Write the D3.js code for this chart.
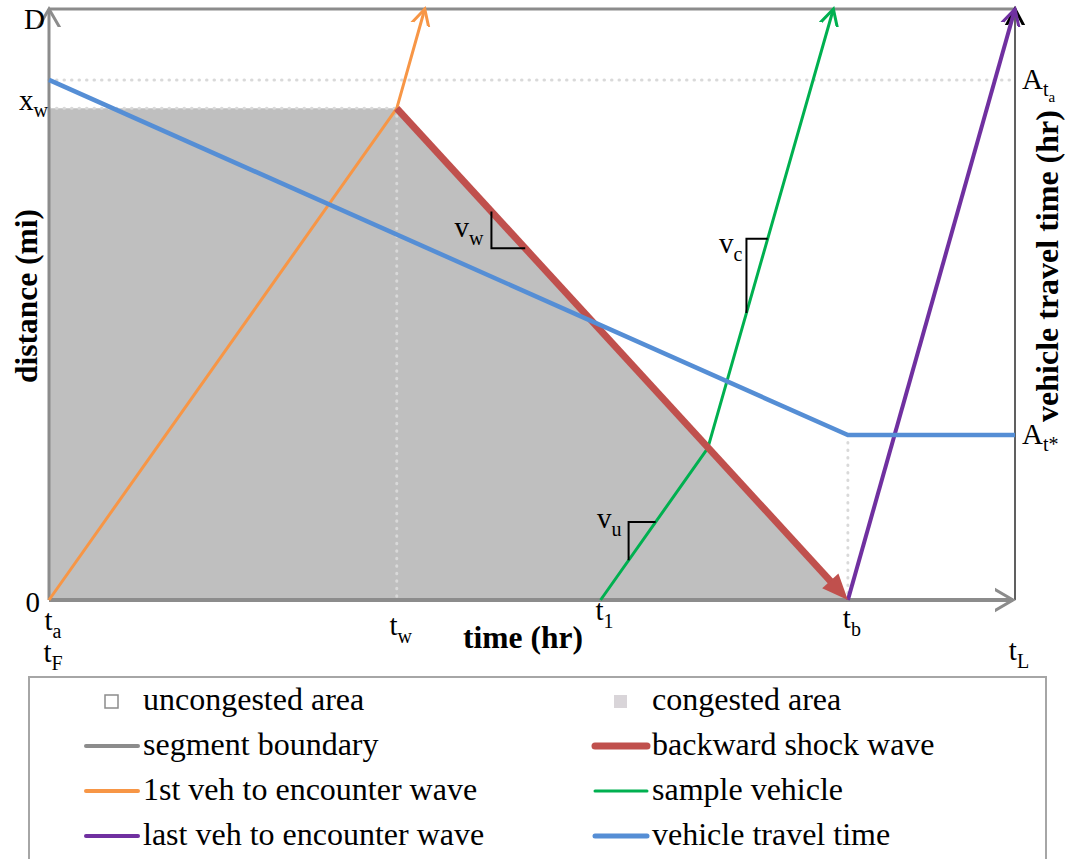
<!DOCTYPE html>
<html>
<head>
<meta charset="utf-8">
<script src="https://cdn.jsdelivr.net/npm/d3@7"></script>
<style>
  body { margin: 0; background: #fff; }
  svg { display: block; font-family: "Liberation Serif", "Times New Roman", serif; }
</style>
</head>
<body>
<div class="chart"></div>
<script>
// page + plot frame
const WIDTH = 1065;
const HEIGHT = 859;
const PLOT = { left: 49, right: 1015, top: 9, bottom: 600 };

// colours
const GRAY = "#8c8c8c";
const ORANGE = "#f79646";
const RED = "#c0504d";
const GREEN = "#00b050";
const PURPLE = "#7030a0";
const BLUE = "#558ed5";
const SHADE = "#bfbfbf";

// data: time and distance both as % of the segment window (t_a..t_L, 0..D)
const TIME_DOMAIN = [0, 100];
const DIST_DOMAIN = [0, 100];

const CONGESTED_AREA = [[0, 0], [0, 83.2], [36.0, 83.2], [82.7, 0]];
const FIRST_VEHICLE = [[0, 0], [36.0, 83.2], [38.9, 100]];
const SHOCK_WAVE = [[36.0, 83.2], [82.7, 0]];
const SAMPLE_VEHICLE = [[57.1, 0], [68.2, 25.7], [81.2, 100]];
const LAST_VEHICLE = [[82.7, 0], [100, 100]];
const TRAVEL_TIME = [[0, 88.0], [82.7, 27.9], [100, 27.9]];

// dotted helper lines
const GUIDES = [
  [[0, 83.2], [36.0, 83.2]],
  [[36.0, 83.2], [36.0, 0]],
  [[0, 88.0], [100, 88.0]],
  [[82.7, 27.9], [82.7, 0]],
];

// tick labels: "t" with a subscript on the time axis
const TIME_TICKS = [0, 0, 36.0, 57.1, 82.7, 100];
const TIME_SUBS = ["a", "F", "w", "1", "b", "L"];
const TIME_LABEL_BASELINE = [630, 662, 635, 620, 628, 660]; // layout only

const DIST_TICKS = [100, 83.2, 0];
const DIST_LABELS = [["D", ""], ["x", "w"], ["0", ""]];
const DIST_LABEL_SHIFT = [[-4, 20], [-1, 2], [-9, 12]]; // layout only

const TRAVEL_TICKS = [88.0, 27.9];
const TRAVEL_SUBS = ["t", "t*"];

// slope markers (start and end time of each little triangle)
const SLOPE_NAMES = ["w", "c", "u"];
const SLOPE_SPANS = [[45.8, 49.3], [72.2, 74.4], [60.0, 62.8]];
const SLOPE_LINES = [SHOCK_WAVE, SAMPLE_VEHICLE, SAMPLE_VEHICLE];
const SLOPE_LABEL_OFFSET = [[-8, -11], [-4, 14], [-7, 6]]; // layout only

const LEGEND_ITEMS = [
  { label: "uncongested area", type: "box", fill: "none", color: GRAY },
  { label: "congested area", type: "box", fill: "#d9d5d9", color: "none" },
  { label: "segment boundary", type: "line", color: GRAY, width: 4 },
  { label: "backward shock wave", type: "line", color: RED, width: 7 },
  { label: "1st veh to encounter wave", type: "line", color: ORANGE, width: 4 },
  { label: "sample vehicle", type: "line", color: GREEN, width: 3 },
  { label: "last veh to encounter wave", type: "line", color: PURPLE, width: 4 },
  { label: "vehicle travel time", type: "line", color: BLUE, width: 5 },
];

let xScale, yScale, svg;

// value of a polyline at time t
function distAt(line, t) {
  for (let i = 0; i < line.length - 1; i++) {
    const [t0, d0] = line[i];
    const [t1, d1] = line[i + 1];
    if (t >= t0 && t <= t1) return d0 + (d1 - d0) * (t - t0) / (t1 - t0);
  }
  return line[line.length - 1][1];
}

function addMarker(defs, id, color, path, filled, size) {
  defs.append("marker")
    .attr("id", id)
    .attr("markerUnits", "userSpaceOnUse")
    .attr("viewBox", `${-size - 4} ${-size - 4} ${2 * size + 30} ${2 * size + 8}`)
    .attr("markerWidth", 2 * size + 30)
    .attr("markerHeight", 2 * size + 8)
    .attr("refX", 0)
    .attr("refY", 0)
    .attr("orient", "auto")
    .append("path")
    .attr("d", path)
    .attr("fill", filled ? color : "none")
    .attr("stroke", filled ? "none" : color)
    .attr("stroke-width", 3)
    .attr("stroke-linejoin", "miter");
}

function initializeLayout() {
  svg = d3.select(".chart")
    .append("svg")
    .attr("width", WIDTH)
    .attr("height", HEIGHT);

  xScale = d3.scaleLinear().domain(TIME_DOMAIN).range([PLOT.left, PLOT.right]);
  yScale = d3.scaleLinear().domain(DIST_DOMAIN).range([PLOT.bottom, PLOT.top]);

  const defs = svg.append("defs");
  const chevron = "M-17,-9 L0,0 L-17,9";
  addMarker(defs, "arrow-orange", ORANGE, chevron, false, 12);
  addMarker(defs, "arrow-green", GREEN, chevron, false, 12);
  addMarker(defs, "arrow-purple", PURPLE, chevron, false, 12);
  addMarker(defs, "arrow-gray", GRAY, "M-19,-11 L0,0 L-19,11", false, 14);
  addMarker(defs, "arrow-black", "#000", chevron, false, 12);
  addMarker(defs, "arrow-red", RED, "M-4,-11 L22,0 L-4,11 Z", true, 12);
}

function draw() {
  const line = d3.line().x(d => xScale(d[0])).y(d => yScale(d[1]));

  // congested area
  svg.append("path")
    .datum(CONGESTED_AREA)
    .attr("d", line.curve(d3.curveLinearClosed))
    .attr("fill", SHADE);
  line.curve(d3.curveLinear);

  // dotted guides
  svg.append("g")
    .selectAll("path")
    .data(GUIDES)
    .join("path")
    .attr("d", line)
    .attr("fill", "none")
    .attr("stroke", "#d9d9d9")
    .attr("stroke-width", 3)
    .attr("stroke-linecap", "round")
    .attr("stroke-dasharray", "0.5,7");

  // segment boundaries / axes
  const axes = svg.append("g").attr("class", "axes");
  axes.append("line")
    .attr("x1", xScale(0)).attr("x2", xScale(100))
    .attr("y1", yScale(100)).attr("y2", yScale(100))
    .attr("stroke", GRAY).attr("stroke-width", 3);
  axes.append("line")
    .attr("x1", xScale(100)).attr("x2", xScale(100))
    .attr("y1", yScale(0)).attr("y2", yScale(100))
    .attr("stroke", "#606060").attr("stroke-width", 2)
    .attr("marker-end", "url(#arrow-black)");
  axes.append("line")
    .attr("x1", xScale(0)).attr("x2", xScale(0))
    .attr("y1", yScale(0)).attr("y2", yScale(100))
    .attr("stroke", GRAY).attr("stroke-width", 3)
    .attr("marker-end", "url(#arrow-gray)");
  axes.append("line")
    .attr("x1", xScale(0)).attr("x2", xScale(100) - 2)
    .attr("y1", yScale(0)).attr("y2", yScale(0))
    .attr("stroke", GRAY).attr("stroke-width", 4)
    .attr("marker-end", "url(#arrow-gray)");

  // vehicle trajectories
  const paths = [
    [FIRST_VEHICLE, ORANGE, 3, "arrow-orange"],
    [SAMPLE_VEHICLE, GREEN, 3, "arrow-green"],
    [LAST_VEHICLE, PURPLE, 4, "arrow-purple"],
  ];
  svg.append("g")
    .selectAll("path")
    .data(paths)
    .join("path")
    .attr("d", d => line(d[0]))
    .attr("fill", "none")
    .attr("stroke", d => d[1])
    .attr("stroke-width", d => d[2])
    .attr("marker-end", d => `url(#${d[3]})`);

  // shock wave: pull the end back so the filled head lands on t_b
  const [a, b] = SHOCK_WAVE.map(p => [xScale(p[0]), yScale(p[1])]);
  const len = Math.hypot(b[0] - a[0], b[1] - a[1]);
  const back = 22;
  svg.append("line")
    .attr("x1", a[0]).attr("y1", a[1])
    .attr("x2", b[0] - (b[0] - a[0]) * back / len)
    .attr("y2", b[1] - (b[1] - a[1]) * back / len)
    .attr("stroke", RED)
    .attr("stroke-width", 7)
    .attr("marker-end", "url(#arrow-red)");

  // travel time
  svg.append("path")
    .datum(TRAVEL_TIME)
    .attr("d", line)
    .attr("fill", "none")
    .attr("stroke", BLUE)
    .attr("stroke-width", 4.5);

  // slope triangles
  const slopes = svg.append("g").attr("class", "slopes");
  SLOPE_NAMES.forEach((name, i) => {
    const [t1, t2] = SLOPE_SPANS[i];
    const d1 = distAt(SLOPE_LINES[i], t1);
    const d2 = distAt(SLOPE_LINES[i], t2);
    slopes.append("path")
      .attr("d", line([[t1, d1], [t1, d2], [t2, d2]]))
      .attr("fill", "none")
      .attr("stroke", "#000")
      .attr("stroke-width", 2);
    const [dx, dy] = SLOPE_LABEL_OFFSET[i];
    const txt = slopes.append("text")
      .attr("x", xScale(t1) + dx)
      .attr("y", yScale(d2) + dy)
      .attr("text-anchor", "end")
      .attr("font-size", 29);
    txt.append("tspan").text("v");
    txt.append("tspan").attr("font-size", 20).attr("dy", 8).text(name);
  });

  // labels
  const labels = svg.append("g").attr("class", "labels").attr("font-size", 29);

  TIME_TICKS.forEach((t, i) => {
    const txt = labels.append("text")
      .attr("x", xScale(t) + 4)
      .attr("y", TIME_LABEL_BASELINE[i])
      .attr("text-anchor", "middle");
    txt.append("tspan").text("t");
    txt.append("tspan").attr("font-size", 20).attr("dy", 8).text(TIME_SUBS[i]);
  });

  DIST_TICKS.forEach((d, i) => {
    const [dx, dy] = DIST_LABEL_SHIFT[i];
    const txt = labels.append("text")
      .attr("x", xScale(0) + dx)
      .attr("y", yScale(d) + dy)
      .attr("text-anchor", "end");
    txt.append("tspan").text(DIST_LABELS[i][0]);
    if (DIST_LABELS[i][1]) {
      txt.append("tspan").attr("font-size", 20).attr("dy", 7).text(DIST_LABELS[i][1]);
    }
  });

  TRAVEL_TICKS.forEach((d, i) => {
    const txt = labels.append("text")
      .attr("x", xScale(100) + 7)
      .attr("y", yScale(d) + 9);
    txt.append("tspan").text("A");
    txt.append("tspan").attr("font-size", 20).attr("dy", 7).text(TRAVEL_SUBS[i]);
    if (i === 0) {
      txt.append("tspan").attr("font-size", 15).attr("dy", 6).text("a");
    }
  });

  // axis titles
  labels.append("text")
    .attr("x", 523).attr("y", 648)
    .attr("text-anchor", "middle")
    .attr("font-weight", "bold")
    .attr("font-size", 31.5)
    .text("time (hr)");
  labels.append("text")
    .attr("transform", "translate(37, 296) rotate(-90)")
    .attr("text-anchor", "middle")
    .attr("font-weight", "bold")
    .attr("font-size", 31.5)
    .text("distance (mi)");
  labels.append("text")
    .attr("transform", "translate(1058, 266) rotate(-90)")
    .attr("text-anchor", "middle")
    .attr("font-weight", "bold")
    .attr("font-size", 32)
    .text("vehicle travel time (hr)");

  drawLegend();
}

function drawLegend() {
  const legend = svg.append("g").attr("class", "legend");
  legend.append("rect")
    .attr("x", 29).attr("y", 677)
    .attr("width", 1017).attr("height", 200)
    .attr("fill", "#fff")
    .attr("stroke", "#a6a6a6")
    .attr("stroke-width", 2);

  const colX = [143, 652];
  const rows = legend.selectAll("g.legend-row")
    .data(LEGEND_ITEMS)
    .join("g")
    .attr("class", "legend-row")
    .attr("transform", (d, i) => `translate(${colX[i % 2]}, ${710 + Math.floor(i / 2) * 45})`);

  rows.filter(d => d.type === "line")
    .append("line")
    .attr("x1", -57).attr("x2", -5)
    .attr("y1", -9).attr("y2", -9)
    .attr("stroke", d => d.color)
    .attr("stroke-width", d => d.width)
    .attr("stroke-linecap", "round");

  rows.filter(d => d.type === "box")
    .append("rect")
    .attr("x", -38).attr("y", -15)
    .attr("width", 13).attr("height", 13)
    .attr("fill", d => d.fill)
    .attr("stroke", d => d.color)
    .attr("stroke-width", 1.5);

  rows.append("text")
    .attr("font-size", 32)
    .text(d => d.label);
}

initializeLayout();
draw();
</script>
</body>
</html>
